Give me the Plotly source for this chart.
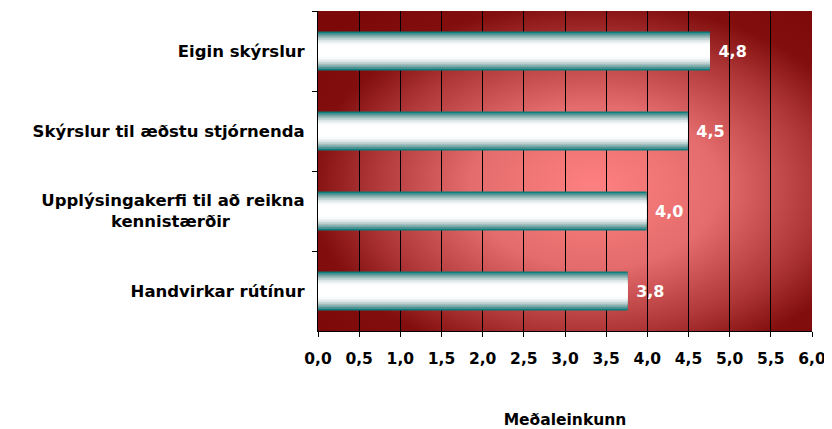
import plotly.graph_objects as go
import urllib.parse

# ---- data ----
categories = [
    "Eigin skýrslur",
    "Skýrslur til æðstu stjórnenda",
    "Upplýsingakerfi til að reikna<br>kennistærðir" + "&nbsp;" * 13,
    "Handvirkar rútínur",
]
values = [4.76, 4.49, 3.99, 3.76]
x_title = "Meðaleinkunn"

FONT = "DejaVu Sans"

fig = go.Figure()

# cylinder-like bar shading: overlaid bars of decreasing thickness
layer_colors = [
    "rgb(10,125,125)", "rgb(70,145,145)", "rgb(120,165,165)", "rgb(160,190,190)",
    "rgb(195,212,212)", "rgb(220,230,230)", "rgb(238,243,243)", "rgb(250,252,252)",
    "rgb(255,255,255)",
]
full_w = 0.49
n = len(layer_colors)
for i, col in enumerate(layer_colors):
    w = full_w * (1 - i / (n + 2.5))
    fig.add_trace(go.Bar(
        y=categories, x=values, orientation="h",
        width=w,
        marker=dict(color=col, line=dict(width=0)),
        texttemplate="&nbsp;%{x:.1f}" if i == 0 else None,
        textposition="outside" if i == 0 else "none",
        textfont=dict(family=FONT, size=16, color="white", weight="bold"),
        cliponaxis=False,
        showlegend=False,
        hoverinfo="skip" if i else "x+y",
    ))

# radial red background
svg = (
    '<svg xmlns="http://www.w3.org/2000/svg" width="494" height="320" '
    'viewBox="0 0 494 320" preserveAspectRatio="none">'
    '<defs><radialGradient id="g" cx="0.56" cy="0.55" r="0.72" fx="0.56" fy="0.55">'
    '<stop offset="0" stop-color="rgb(255,128,128)"/>'
    '<stop offset="0.35" stop-color="rgb(228,108,108)"/>'
    '<stop offset="0.62" stop-color="rgb(175,55,55)"/>'
    '<stop offset="0.8" stop-color="rgb(130,14,14)"/>'
    '<stop offset="1" stop-color="rgb(125,8,8)"/>'
    '</radialGradient></defs>'
    '<rect x="0" y="0" width="494" height="320" fill="url(#g)"/></svg>'
)
src = "data:image/svg+xml;charset=utf-8," + urllib.parse.quote(svg)

fig.update_layout(
    width=824, height=421,
    margin=dict(l=310, r=20, t=3, b=98, autoexpand=False),
    barmode="overlay",
    paper_bgcolor="white",
    plot_bgcolor="rgba(0,0,0,0)",
    separators=",.",
    font=dict(family=FONT, color="black"),
    images=[dict(
        source=src, xref="paper", yref="paper", x=0, y=1,
        sizex=1, sizey=1, sizing="stretch", layer="below",
        xanchor="left", yanchor="top",
    )],
    xaxis=dict(
        range=[0, 6], dtick=0.5, tick0=0, tickformat=".1f",
        automargin=False,
        showgrid=True, gridcolor="black", gridwidth=1,
        showline=True, linecolor="black", linewidth=1,
        ticks="outside", ticklen=5, tickcolor="black",
        tickfont=dict(family=FONT, size=15.5, color="black", weight="bold"),
        ticklabelstandoff=8,
        zeroline=False,
        title=dict(text=x_title, standoff=47,
                   font=dict(family=FONT, size=15.5, color="black", weight="bold")),
    ),
    yaxis=dict(
        autorange="reversed", type="category", automargin=False,
        tickson="boundaries", ticks="outside", ticklen=5, tickcolor="black",
        showline=True, linecolor="black", linewidth=1,
        showgrid=False,
        tickfont=dict(family=FONT, size=16.5, color="black", weight="bold"),
        ticklabelstandoff=9,
    ),
)

fig.write_html("out.html")
